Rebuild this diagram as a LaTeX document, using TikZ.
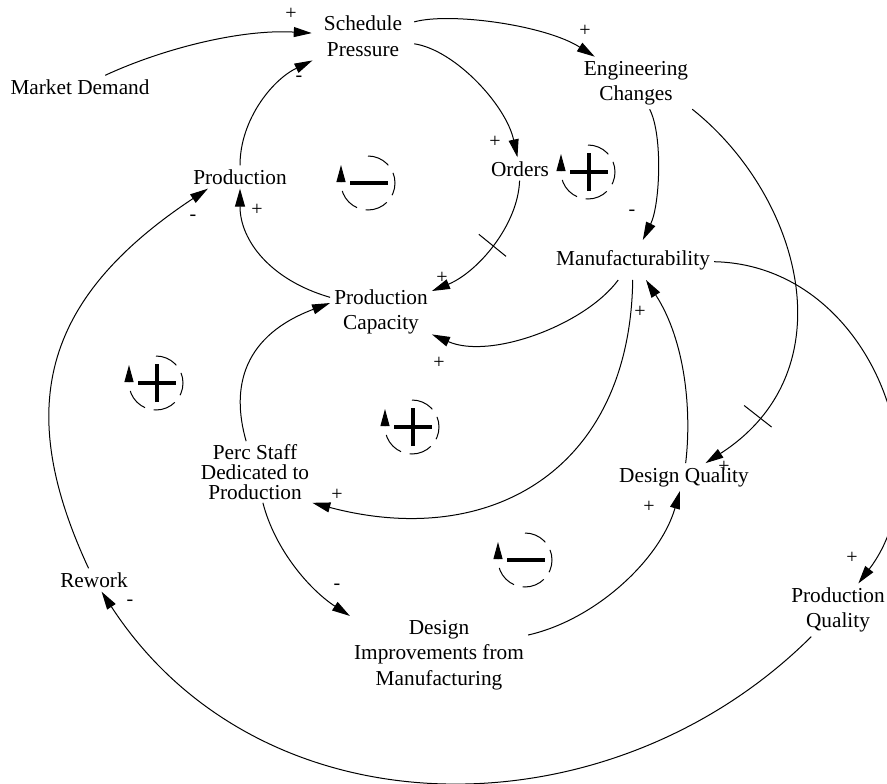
\documentclass[tikz,border=0pt]{standalone}
\usepackage{fontspec}
\setmainfont{Liberation Serif}
\usetikzlibrary{arrows.meta}
\tikzset{
  loop diagram/.style={x=1pt, y=1pt},
  varname/.style={
    align=center,
    inner sep=4pt,
    font=\fontsize{21.3}{25.5}\selectfont
  },
  link/.style={-{Triangle[length=18pt,width=10pt]}, line width=1pt},
  polarity/.style={inner sep=0pt, font=\fontsize{20}{20}\selectfont},
  delaymark/.style={
    draw,
    sloped,
    line width=1pt,
    minimum width=0pt,
    minimum height=35pt,
    inner sep=0pt
  },
  ringline/.style={line width=1pt, dash pattern=on 23pt off 9pt, -{Triangle[length=17pt,width=9pt]}},
  posloop/.pic={
    \draw[ringline] (90:27) arc[start angle=90, end angle=-180, radius=27] -- ++(0,18);
    \draw[line width=3.5pt] (-18,0) -- (20,0) (1,-19) -- (1,19);
  },
  negloop/.pic={
    \draw[ringline] (90:27) arc[start angle=90, end angle=-180, radius=27] -- ++(0,18);
    \draw[line width=4pt] (-18,0) -- (20,0);
  }
}
\begin{document}
\begin{tikzpicture}[loop diagram]
\useasboundingbox (0,0) rectangle (887,-784);
\node[varname] (market) at (80,-87) {Market Demand};
\node[varname, inner xsep=12pt] (sched) at (363,-36) {Schedule\\Pressure};
\node[varname] (eng) at (636,-83) {Engineering\\Changes};
\node[varname] (prod) at (240,-177) {Production};
\node[varname] (orders) at (520,-169) {Orders};
\node[varname, inner ysep=10pt] (manuf) at (633,-260) {Manufacturability};
\node[varname] (cap) at (381,-312) {Production\\Capacity};
\node[varname, inner sep=3pt, font=\fontsize{21.3}{20}\selectfont] (perc) at (255,-472) {Perc Staff\\Dedicated to\\Production};
\node[varname] (dq) at (684,-477) {Design Quality};
\node[varname] (rework) at (94,-580) {Rework};
\node[varname] (pq) at (838,-610) {Production\\Quality};
\node[varname] (dim) at (439,-655) {Design\\Improvements from\\Manufacturing};

\draw[link] (market) .. controls (162,-49) and (240,-29) .. (sched);
\draw[link] (prod) .. controls (240,-120) and (272,-80) .. (sched);
\draw[link] (sched) .. controls (450,-12) and (545,-25) .. (eng);
\draw[link] (sched) .. controls (455,-50) and (506,-105) .. (orders);
\draw[link] (orders) .. controls (518,-225) and (478,-272) .. node[delaymark, pos=0.5] (d1) {} (cap);
\draw[link] (eng) .. controls (663,-135) and (660,-205) .. (manuf);
\draw[link] (eng.-25) .. controls (800,-195) and (850,-370) .. node[delaymark, pos=0.85] (d2) {} (dq);
\draw[link] (manuf) .. controls (870,-265) and (945,-470) .. (pq);
\draw[link] (manuf) .. controls (585,-325) and (490,-360) .. (cap);
\draw[link] (manuf) .. controls (630,-470) and (490,-550) .. (perc.south east);
\draw[link] (dq) .. controls (692,-410) and (685,-340) .. (manuf);
\draw[link] (dim) .. controls (595,-620) and (660,-560) .. (dq);
\draw[link] (perc) .. controls (275,-550) and (310,-590) .. (dim.north west);
\draw[link] (cap) .. controls (270,-280) and (240,-240) .. (prod);
\draw[link] (perc) .. controls (230,-385) and (245,-335) .. (cap.170);
\draw[link] (rework) .. controls (15,-410) and (40,-300) .. (prod.200);
\draw[link] (pq) .. controls (609,-838) and (262,-838) .. (rework);

\node[polarity] (s1) at (291,-14) {+};
\node[polarity] (s2) at (299,-79) {-};
\node[polarity] (s3) at (585,-31) {+};
\node[polarity] (s4) at (495,-142) {+};
\node[polarity] (s5) at (442,-278) {+};
\node[polarity] (s6) at (632,-213) {-};
\node[polarity] (s7) at (724,-467) {+};
\node[polarity] (s8) at (852,-558) {+};
\node[polarity] (s9) at (439,-363) {+};
\node[polarity] (s10) at (337,-495) {+};
\node[polarity] (s11) at (640,-312) {+};
\node[polarity] (s12) at (649,-507) {+};
\node[polarity] (s13) at (337,-587) {-};
\node[polarity] (s14) at (257,-210) {+};
\node[polarity] (s15) at (193,-218) {-};
\node[polarity] (s16) at (130,-603) {-};

\pic at (368,-183) {negloop};
\pic at (588,-172) {posloop};
\pic at (156,-383) {posloop};
\pic at (412,-427) {posloop};
\pic at (525,-560) {negloop};
\end{tikzpicture}
\end{document}
